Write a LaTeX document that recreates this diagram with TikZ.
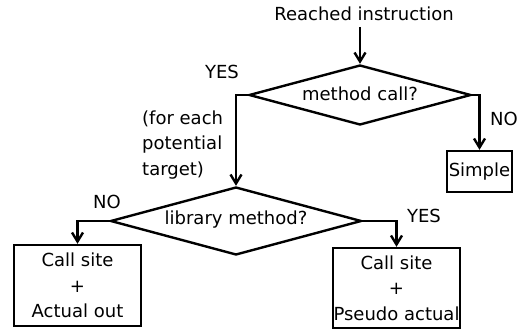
\documentclass[tikz,border=0pt]{standalone}
\usepackage{fontspec}
\setmainfont{DejaVu Sans}
\usetikzlibrary{shapes.geometric,arrows.meta}
\begin{document}
\begin{tikzpicture}[x=1pt,y=-1pt,
  every node/.style={font=\fontsize{18}{25.5}\selectfont, inner sep=0pt},
  lw/.style={line width=2.4pt},
  dia/.style={lw, draw, shape=diamond, inner sep=0pt},
  box/.style={lw, draw, rectangle, align=center},
  arr/.style={lw, -{Straight Barb[length=9pt,width=11pt,line width=2.4pt]}},
  lbl/.style={}]
\useasboundingbox (0,0) rectangle (519,329);
\node (start) at (364,14) {Reached instruction};
\node[dia, minimum width=222pt, minimum height=60pt, aspect=3.7] (d1) at (360,95) {};
\node at (360,94) {method call?};
\node[lbl] (yes1) at (222,72) {YES};
\node[lbl] (no1) at (504,119) {NO};
\node[anchor=west, align=left] (note) at (142,145) {(for each\\potential\\target)};
\node[box, minimum width=65pt, minimum height=41pt] (simple) at (479.5,171.5) {Simple};
\node[dia, minimum width=251pt, minimum height=68pt, aspect=3.7] (d2) at (236,221) {};
\node at (236,220) {library method?};
\node[lbl] (no2) at (107,202) {NO};
\node[lbl] (yes2) at (424,216) {YES};
\node[box, minimum width=127pt, minimum height=81pt] (bl) at (77.5,285.5) {Call site\\+\\Actual out};
\node[box, minimum width=127pt, minimum height=80pt] (br) at (396.5,288) {Call site\\+\\Pseudo actual};
\coordinate (s0) at (360,27);
\draw[arr] (s0) -- (d1.north);
\draw[arr] (d1.east) -| (simple.north);
\draw[arr] (d1.west) -| (d2.north);
\draw[arr] (d2.west) -| (bl.north);
\draw[arr] (d2.east) -| (br.north);
\end{tikzpicture}
\end{document}
